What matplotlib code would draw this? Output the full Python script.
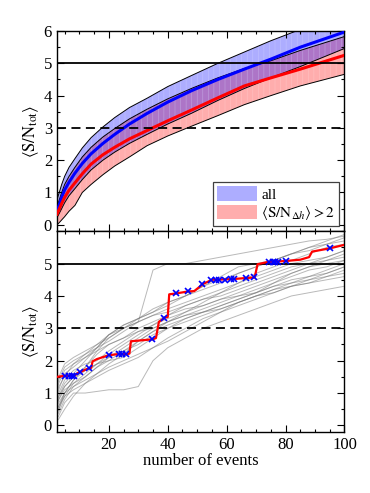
import numpy as np
import matplotlib
matplotlib.use('Agg')
from matplotlib import pyplot as plt
from matplotlib.patches import Patch
from matplotlib.ticker import MultipleLocator

plt.rcParams['font.family'] = 'serif'
plt.rcParams['font.serif'] = ['Liberation Serif', 'DejaVu Serif']
plt.rcParams['mathtext.fontset'] = 'stix'
plt.rcParams['hatch.linewidth'] = 0.4

# ---- top panel: mean curves and 1-sigma bands ----
top_n = [2.4, 3, 4, 5, 6.5, 8.5, 11, 14, 18, 22, 27, 33, 40, 48, 57, 66, 75, 85, 100]
all_mean = [0.43, 0.57, 0.85, 1.08, 1.32, 1.6, 1.9, 2.2, 2.52, 2.8, 3.12, 3.45, 3.8, 4.15, 4.5, 4.82, 5.13, 5.5, 5.97]
all_hi = [0.78, 0.95, 1.25, 1.5, 1.78, 2.05, 2.38, 2.7, 3.03, 3.32, 3.63, 3.92, 4.28, 4.62, 5.0, 5.35, 5.7, 6.05, 6.55]
all_lo = [0.22, 0.32, 0.5, 0.68, 0.9, 1.12, 1.4, 1.7, 2.0, 2.25, 2.52, 2.8, 3.12, 3.45, 3.85, 4.22, 4.55, 4.9, 5.46]
cut_mean = [0.33, 0.45, 0.66, 0.85, 1.07, 1.3, 1.58, 1.88, 2.17, 2.4, 2.66, 2.92, 3.22, 3.55, 3.93, 4.3, 4.55, 4.82, 5.25]
cut_hi = [0.58, 0.72, 1.0, 1.25, 1.5, 1.78, 2.1, 2.4, 2.72, 2.98, 3.28, 3.58, 3.9, 4.22, 4.55, 4.84, 5.08, 5.4, 5.83]
cut_lo = [0.0, 0.05, 0.15, 0.25, 0.42, 0.6, 1.0, 1.25, 1.55, 1.82, 2.1, 2.45, 2.75, 3.05, 3.38, 3.72, 4.0, 4.3, 4.66]

# ---- bottom panel: individual realisations ----
grey_n = [1, 3, 5, 8, 12, 16, 20, 25, 30, 35, 40, 46, 52, 58, 64, 70, 76, 82, 88, 94, 100]
grey_runs = [
    [0.3, 0.9, 1.3, 1.6, 2.0, 2.4, 2.8, 3.1, 3.3, 3.6, 3.8, 4.0, 4.3, 4.5, 4.7, 4.9, 5.1, 5.3, 5.4, 5.6, 5.8],
    [0.5, 1.2, 1.5, 1.9, 2.2, 2.5, 2.8, 3.0, 3.2, 4.8, 5.0, 5.0, 5.1, 5.2, 5.3, 5.4, 5.5, 5.6, 5.7, 5.75, 5.85],
    [0.2, 0.6, 1.0, 1.4, 1.8, 2.2, 2.5, 2.7, 2.9, 3.1, 3.3, 3.5, 3.7, 3.9, 4.1, 4.3, 4.5, 4.7, 4.9, 5.1, 5.3],
    [0.1, 0.4, 0.8, 1.2, 1.5, 1.8, 2.1, 2.4, 2.7, 3.0, 3.2, 3.4, 3.5, 3.7, 3.9, 4.1, 4.3, 4.5, 4.6, 4.8, 5.0],
    [0.0, 0.3, 0.7, 1.0, 1.0, 1.05, 1.1, 1.1, 1.2, 2.0, 2.4, 2.7, 3.0, 3.2, 3.4, 3.6, 3.8, 4.0, 4.1, 4.2, 4.3],
    [0.6, 1.4, 1.8, 2.0, 2.2, 2.4, 2.6, 2.9, 3.2, 3.4, 3.6, 3.8, 4.0, 4.2, 4.4, 4.6, 4.8, 5.0, 5.1, 5.2, 5.4],
    [0.2, 0.8, 1.2, 1.5, 1.7, 1.9, 2.2, 2.5, 2.8, 3.1, 3.4, 3.7, 3.9, 4.0, 4.2, 4.4, 4.6, 4.8, 5.0, 5.2, 5.4],
    [0.4, 1.0, 1.4, 1.7, 1.9, 2.0, 2.3, 2.6, 2.9, 3.0, 3.2, 3.5, 3.8, 4.1, 4.3, 4.5, 4.7, 4.9, 5.0, 5.1, 5.2],
    [0.1, 0.5, 0.9, 1.3, 1.6, 1.9, 2.1, 2.3, 2.5, 2.8, 3.0, 3.2, 3.4, 3.6, 3.8, 4.0, 4.2, 4.3, 4.4, 4.6, 4.7],
    [0.3, 0.9, 1.2, 1.5, 1.8, 2.3, 2.7, 3.0, 3.2, 3.4, 3.5, 3.7, 3.9, 4.1, 4.4, 4.7, 4.9, 5.1, 5.3, 5.5, 5.6],
    [0.5, 1.1, 1.6, 1.8, 2.1, 2.4, 2.8, 3.1, 3.3, 3.5, 3.7, 4.0, 4.3, 4.6, 4.9, 5.0, 5.1, 5.3, 5.5, 5.6, 5.7],
    [0.2, 0.7, 1.0, 1.2, 1.4, 1.6, 1.9, 2.2, 2.6, 2.9, 3.2, 3.4, 3.6, 3.8, 4.0, 4.1, 4.3, 4.4, 4.5, 4.6, 4.8],
    [0.1, 0.5, 1.0, 1.4, 1.7, 1.9, 2.0, 2.1, 2.4, 2.7, 3.0, 3.3, 3.5, 3.6, 3.8, 4.0, 4.1, 4.3, 4.5, 4.7, 4.9],
    [0.4, 1.3, 1.7, 1.9, 2.1, 2.3, 2.5, 2.7, 3.0, 3.2, 3.4, 3.6, 3.7, 3.9, 4.0, 4.2, 4.4, 4.6, 4.8, 4.9, 5.1],
    [0.0, 0.2, 0.5, 0.9, 1.3, 1.6, 1.8, 2.0, 2.2, 2.4, 2.6, 2.9, 3.2, 3.5, 3.8, 4.0, 4.2, 4.4, 4.6, 4.7, 4.9],
    [0.6, 1.5, 1.9, 2.1, 2.3, 2.5, 2.7, 3.0, 3.3, 3.5, 3.8, 4.0, 4.2, 4.4, 4.7, 4.9, 5.1, 5.3, 5.5, 5.7, 5.9],
    [0.3, 0.8, 1.1, 1.3, 1.5, 1.8, 2.0, 2.3, 2.6, 2.9, 3.1, 3.3, 3.5, 3.7, 3.9, 4.1, 4.4, 4.7, 4.9, 5.0, 5.1],
    [0.2, 0.6, 0.9, 1.1, 1.3, 1.5, 1.7, 1.9, 2.1, 2.4, 2.7, 3.0, 3.3, 3.5, 3.7, 3.9, 4.1, 4.3, 4.4, 4.5, 4.6],
]

# highlighted realisation (red) and its detections (blue crosses)
run_n = [2.4, 4, 8.5, 9.5, 11, 12.5, 14, 14.5, 16, 20, 23, 26, 27, 27.5, 35, 36, 37, 39, 40, 40.5,
         43, 47, 49, 52, 55, 62, 66, 69.5, 70.5, 74, 80, 85, 88, 89, 95, 100]
run_v = [1.50, 1.52, 1.55, 1.62, 1.68, 1.74, 1.78, 1.98, 2.05, 2.17, 2.2, 2.2, 2.22, 2.6, 2.66, 2.7,
         3.2, 3.33, 3.35, 4.05, 4.08, 4.14, 4.15, 4.37, 4.5, 4.52, 4.55, 4.57, 4.98, 5.05, 5.08,
         5.12, 5.2, 5.37, 5.47, 5.58]
det_n = [5.2, 6.4, 7.5, 8.3, 10.3, 13.2, 20, 23.4, 24.5, 25.7, 34.8, 38.7, 42.9, 46.9, 51.8,
         54.8, 56.3, 57.4, 59.4, 61.4, 62.5, 66.5, 69.3, 74.4, 75.6, 76.4, 77.3, 80.1, 95.2]
det_v = [1.53, 1.53, 1.53, 1.53, 1.66, 1.76, 2.17, 2.2, 2.2, 2.2, 2.66, 3.33, 4.09, 4.15, 4.36,
         4.5, 4.5, 4.5, 4.5, 4.52, 4.52, 4.56, 4.57, 5.06, 5.06, 5.06, 5.06, 5.08, 5.47]

ylab = r'$\langle \mathrm{S/N_{tot}} \rangle$'

fig = plt.figure(figsize=(3.7, 4.93), dpi=100)
ax1 = fig.add_axes([0.154, 0.531, 0.777, 0.406])
ax2 = fig.add_axes([0.154, 0.124, 0.777, 0.407])

blue_fill = (0, 0, 1, 0.32)
red_fill = (1, 0, 0, 0.32)

ax1.fill_between(top_n, cut_lo, cut_hi, facecolor=red_fill, edgecolor=(1, 1, 1, 0.25),
                 hatch='|||', lw=0, zorder=1)
ax1.fill_between(top_n, all_lo, all_hi, facecolor=blue_fill, edgecolor=(1, 1, 1, 0.25),
                 hatch='|||', lw=0, zorder=1)
for edge in (all_hi, all_lo, cut_hi, cut_lo):
    ax1.plot(top_n, edge, color='k', lw=0.7, zorder=2)
ax1.plot(top_n, all_mean, color='b', lw=2.2, zorder=3)
ax1.plot(top_n, cut_mean, color='r', lw=2.2, zorder=3)
ax1.axhline(5, color='k', lw=1.3, zorder=4)
ax1.axhline(3, color='k', lw=1.3, ls=(0, (5, 3)), zorder=4)

handles = [Patch(facecolor=blue_fill, edgecolor='none'),
           Patch(facecolor=red_fill, edgecolor='none')]
leg = ax1.legend(handles, ['all', r'$\langle \mathrm{S/N}_{\Delta h} \rangle > 2$'],
                 loc='lower right', fontsize=11, fancybox=False, framealpha=1,
                 edgecolor='0.25', handlelength=2.6, handleheight=1.1,
                 borderpad=0.25, labelspacing=0.15, handletextpad=0.3,
                 borderaxespad=0.35)
leg.get_frame().set_linewidth(0.9)

for run in grey_runs:
    ax2.plot(grey_n, run, color='0.45', lw=0.7, alpha=0.5, zorder=1)
ax2.axhline(5, color='k', lw=1.3, zorder=2)
ax2.axhline(3, color='k', lw=1.3, ls=(0, (5, 3)), zorder=2)
ax2.plot(run_n, run_v, color='r', lw=1.6, zorder=3)
ax2.plot(det_n, det_v, ls='none', marker='x', color='b', ms=4.5, mew=1.2, zorder=4)

for ax in (ax1, ax2):
    ax.set_xlim(2.4, 100)
    ax.set_ylim(-0.2, 6)
    ax.xaxis.set_major_locator(MultipleLocator(20))
    ax.xaxis.set_minor_locator(MultipleLocator(5))
    ax.yaxis.set_major_locator(MultipleLocator(1))
    ax.yaxis.set_minor_locator(MultipleLocator(0.5))
    ax.tick_params(which='both', direction='in', top=True, right=True, labelsize=12)
    ax.tick_params(which='major', length=5, width=0.8)
    ax.tick_params(which='minor', length=2.5, width=0.8)
    for sp in ax.spines.values():
        sp.set_linewidth(1.0)
    ax.set_ylabel(ylab, fontsize=12, labelpad=2)

ax1.tick_params(labelbottom=False)
ax2.set_yticks([0, 1, 2, 3, 4, 5])
ax2.set_xlabel('number of events', fontsize=12, labelpad=0)

fig.savefig('out.png', dpi=100)
